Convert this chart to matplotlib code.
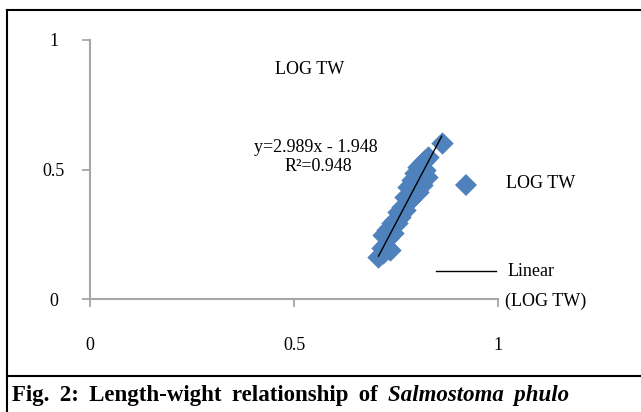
import matplotlib.pyplot as plt
from matplotlib.lines import Line2D

# log length vs log weight
log_tl = [0.862, 0.829, 0.821, 0.813, 0.805, 0.821, 0.797, 0.813, 0.825,
          0.788, 0.801, 0.813, 0.780, 0.792, 0.805, 0.772, 0.784, 0.776,
          0.764, 0.772, 0.756, 0.760, 0.748, 0.739, 0.752, 0.735, 0.727,
          0.743, 0.719, 0.731, 0.723, 0.715, 0.735, 0.707, 0.719]
log_tw = [0.601, 0.549, 0.537, 0.524, 0.511, 0.498, 0.485, 0.472, 0.472,
          0.459, 0.447, 0.440, 0.434, 0.421, 0.414, 0.395, 0.382, 0.369,
          0.356, 0.344, 0.337, 0.318, 0.305, 0.292, 0.292, 0.279, 0.266,
          0.254, 0.247, 0.234, 0.208, 0.196, 0.189, 0.163, 0.176]

slope = 2.989
intercept = -1.948
r2 = 0.948

xticks = [0, 0.5, 1]
yticks = [0, 0.5, 1]
tick_labels = ["0", "0.5", "1"]

blue = "#4F81BD"
axis_grey = "#A6A6A6"
W, H = 641, 412
fs = 13
gap = " \u2009"   # wider word spacing, like the justified caption

plt.rcParams['font.family'] = ['Liberation Serif', 'DejaVu Serif']

fig = plt.figure(figsize=(6.41, 4.12), dpi=100)
ax = fig.add_axes([90 / W, (H - 299) / H, (498 - 90) / W, (299 - 40) / H])

ax.scatter(log_tl, log_tw, marker='D', s=130, color=blue, linewidths=0, zorder=3)

x0, x1 = min(log_tl), max(log_tl)
ax.plot([x0, x1], [slope * x0 + intercept, slope * x1 + intercept],
        color='black', lw=1, zorder=4)

ax.set_xlim(0, 1)
ax.set_ylim(0, 1)
ax.set_xticks(xticks)
ax.set_yticks(yticks)
ax.set_xticklabels(tick_labels, fontsize=fs)
ax.set_yticklabels(tick_labels, fontsize=fs, ha='center')
ax.tick_params(axis='x', direction='out', length=6, width=1.3, color=axis_grey, pad=21)
ax.tick_params(axis='y', direction='out', length=6, width=1.3, color=axis_grey, pad=20)
for s in ['top', 'right']:
    ax.spines[s].set_visible(False)
for s in ['left', 'bottom']:
    ax.spines[s].set_color(axis_grey)
    ax.spines[s].set_linewidth(1.5)
ax.patch.set_alpha(0)

# title and trendline label
fig.text(310 / W, 1 - 70 / H, "LOG TW", fontsize=fs, ha='center', va='center')
fig.text(316 / W, 1 - 148 / H, f"y={slope}x - {-intercept}", fontsize=fs,
         ha='center', va='center')
fig.text(318 / W, 1 - 167 / H, f"R²={r2}", fontsize=fs, ha='center', va='center')

# legend, placed by hand like the original
fig.add_artist(Line2D([466 / W], [1 - 185 / H], marker='D', markersize=11,
                      color=blue, markeredgewidth=0, linestyle='none'))
fig.text(506 / W, 1 - 184 / H, "LOG TW", fontsize=fs, ha='left', va='center')
fig.add_artist(Line2D([436 / W, 496 / W], [1 - 271 / H, 1 - 271 / H],
                      color='black', lw=1))
fig.text(508 / W, 1 - 271 / H, "Linear", fontsize=fs, ha='left', va='center')
fig.text(505 / W, 1 - 301 / H, "(LOG TW)", fontsize=fs, ha='left', va='center')

# frame and caption
fig.add_artist(Line2D([7 / W, 7 / W], [0, 1 - 10 / H], color='black', lw=1.5))
fig.add_artist(Line2D([7 / W, 1], [1 - 10 / H, 1 - 10 / H], color='black', lw=1.5))
fig.add_artist(Line2D([7 / W, 1], [1 - 376 / H, 1 - 376 / H], color='black', lw=1.5))
cap_words = ["Fig.", "2:", "Length-wight", "relationship", "of", ""]
cap = fig.text(12 / W, 1 - 395 / H, gap.join(cap_words),
               fontsize=16.5, fontweight='bold', ha='left', va='center')
ax.annotate(gap.join(["Salmostoma", "phulo"]), xy=(1, 0), xycoords=cap,
            va='bottom', ha='left', fontsize=16.5, fontweight='bold',
            style='italic', annotation_clip=False)

fig.savefig("out.png", dpi=100)
